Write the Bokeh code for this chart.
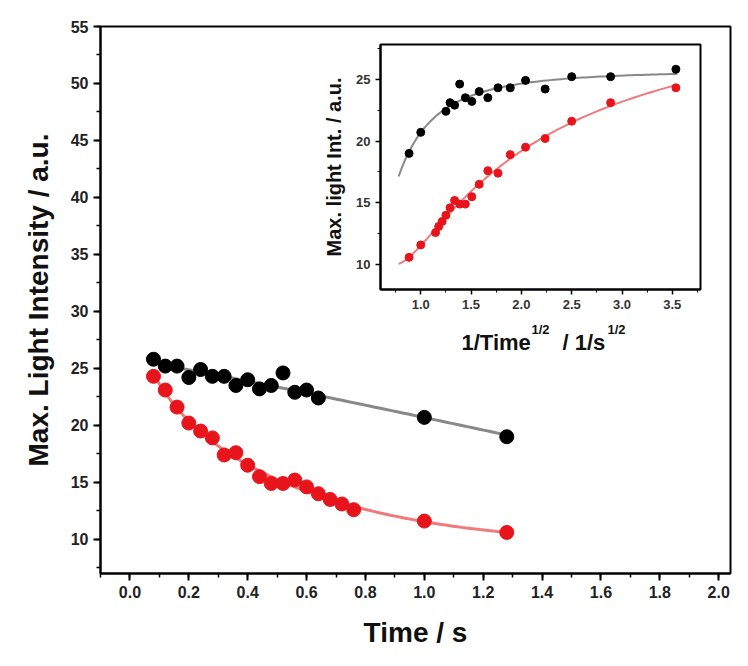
import numpy as np
from bokeh.plotting import figure
from bokeh.layouts import column
from bokeh.models import Range1d, Label, FixedTicker, NumeralTickFormatter
from bokeh.embed import file_html
from bokeh.resources import INLINE

t_black = [0.08,0.12,0.16,0.20,0.24,0.28,0.32,0.36,0.40,0.44,0.48,0.52,0.56,0.60,0.64,1.00,1.28]
i_black = [25.8,25.2,25.2,24.2,24.9,24.3,24.3,23.5,24.0,23.2,23.5,24.6,22.9,23.1,22.4,20.7,19.0]
t_red = [0.08,0.12,0.16,0.20,0.24,0.28,0.32,0.36,0.40,0.44,0.48,0.52,0.56,0.60,0.64,0.68,0.72,0.76,1.00,1.28]
i_red = [24.3,23.1,21.6,20.2,19.5,18.9,17.4,17.6,16.5,15.5,14.9,14.9,15.2,14.6,14.0,13.5,13.1,12.6,11.6,10.6]

x_ticks = [0.0,0.2,0.4,0.6,0.8,1.0,1.2,1.4,1.6,1.8,2.0]
y_ticks = [10,15,20,25,30,35,40,45,50,55]
ix_ticks = [1.0,1.5,2.0,2.5,3.0,3.5]
iy_ticks = [10,15,20,25]

def fit(t, y):
    t = np.asarray(t); y = np.asarray(y)
    A = np.vstack([np.ones_like(t), np.sqrt(t), t]).T
    c, *_ = np.linalg.lstsq(A, y, rcond=None)
    return lambda tt: c[0] + c[1]*np.sqrt(tt) + c[2]*tt

fb = fit(t_black, i_black)
fr = fit(t_red, i_red)

FONT = "Liberation Sans"
W, H = 740, 650
p = figure(width=W, height=H, output_backend="svg", toolbar_location=None,
           x_range=Range1d(-0.1, 2.04), y_range=Range1d(7, 55),
           min_border_left=100, min_border_right=3, min_border_top=26, min_border_bottom=53)
p.grid.visible = False
p.outline_line_color = "black"; p.outline_line_width = 2
for ax in (p.xaxis[0], p.yaxis[0]):
    ax.axis_line_width = 2
    ax.major_tick_line_width = 2
    ax.minor_tick_line_width = 1.5
    ax.major_tick_out = 7; ax.major_tick_in = 0
    ax.minor_tick_out = 4; ax.minor_tick_in = 0
    ax.major_label_text_font = FONT
    ax.major_label_text_font_style = "bold"
    ax.major_label_text_font_size = "16px"
    ax.major_label_text_color = "#222222"
    ax.axis_label_text_font = FONT
    ax.axis_label_text_font_style = "bold"
    ax.axis_label_text_color = "#111111"
p.xaxis.ticker = FixedTicker(ticks=x_ticks, minor_ticks=list(np.round(np.arange(-0.1, 2.05, 0.1), 2)))
p.yaxis.ticker = FixedTicker(ticks=y_ticks, minor_ticks=list(np.arange(7.5, 55.1, 2.5)))
p.xaxis.formatter = NumeralTickFormatter(format="0.0")
p.xaxis.axis_label = "Time / s"
p.yaxis.axis_label = "Max. Light Intensity / a.u."
p.xaxis.axis_label_text_font_size = "28px"
p.yaxis.axis_label_text_font_size = "28px"
p.xaxis.axis_label_standoff = 16
p.yaxis.axis_label_standoff = 14

tb = np.linspace(0.18, 1.28, 60)
tr = np.linspace(0.08, 1.28, 80)
p.line(tb, fb(tb), line_color="#888888", line_width=3)
p.line(tr, fr(tr), line_color="#f07a7a", line_width=3)
p.scatter(t_black, i_black, size=14, color="black")
p.scatter(t_red, i_red, size=14, color="#e8141b")

# inset x-axis title, drawn on the main figure in screen units
for txt, x, y, s in [("1/Time", 361, 219, "22px"), ("1/2", 431, 237, "13px"),
                     ("/ 1/s", 462, 219, "22px"), ("1/2", 507, 237, "13px")]:
    p.add_layout(Label(x=x, y=y, x_units="screen", y_units="screen", text=txt,
                       text_font=FONT, text_font_style="bold", text_font_size=s,
                       text_color="#111111"))

# inset
q = figure(width=430, height=315, output_backend="svg", toolbar_location=None,
           x_range=Range1d(0.6, 3.78), y_range=Range1d(8, 27.8),
           min_border_left=78, min_border_right=10, min_border_top=5, min_border_bottom=65,
           styles={"position": "absolute", "left": "280px", "top": "39px"},
           background_fill_alpha=0, border_fill_alpha=0)
q.grid.visible = False
q.outline_line_color = "black"; q.outline_line_width = 2
for ax in (q.xaxis[0], q.yaxis[0]):
    ax.axis_line_width = 2
    ax.major_tick_line_width = 1.5
    ax.minor_tick_line_width = 1
    ax.major_tick_out = 5; ax.major_tick_in = 0
    ax.minor_tick_out = 3; ax.minor_tick_in = 0
    ax.major_label_text_font = FONT
    ax.major_label_text_font_style = "bold"
    ax.major_label_text_font_size = "13px"
    ax.major_label_text_color = "#333333"
    ax.axis_label_text_font = FONT
    ax.axis_label_text_font_style = "bold"
    ax.axis_label_text_color = "#111111"
q.xaxis.ticker = FixedTicker(ticks=ix_ticks, minor_ticks=list(np.arange(0.75, 3.8, 0.25)))
q.yaxis.ticker = FixedTicker(ticks=iy_ticks, minor_ticks=list(np.arange(7.5, 27.6, 2.5)))
q.xaxis.formatter = NumeralTickFormatter(format="0.0")
q.yaxis.axis_label = "Max. light Int. / a.u."
q.yaxis.axis_label_text_font_size = "20px"
q.yaxis.axis_label_standoff = 8

xb = 1/np.sqrt(np.array(t_black)); xr = 1/np.sqrt(np.array(t_red))
xs = np.linspace(0.78, 3.55, 80)
q.line(xs, fb(1/xs**2), line_color="#888888", line_width=2)
q.line(xs, fr(1/xs**2), line_color="#f07a7a", line_width=2)
q.scatter(xb, i_black, size=8, color="black")
q.scatter(xr, i_red, size=8, color="#e8141b")

lay = column(p, q, styles={"position": "relative"})
open("out.html", "w").write(file_html(lay, INLINE))
